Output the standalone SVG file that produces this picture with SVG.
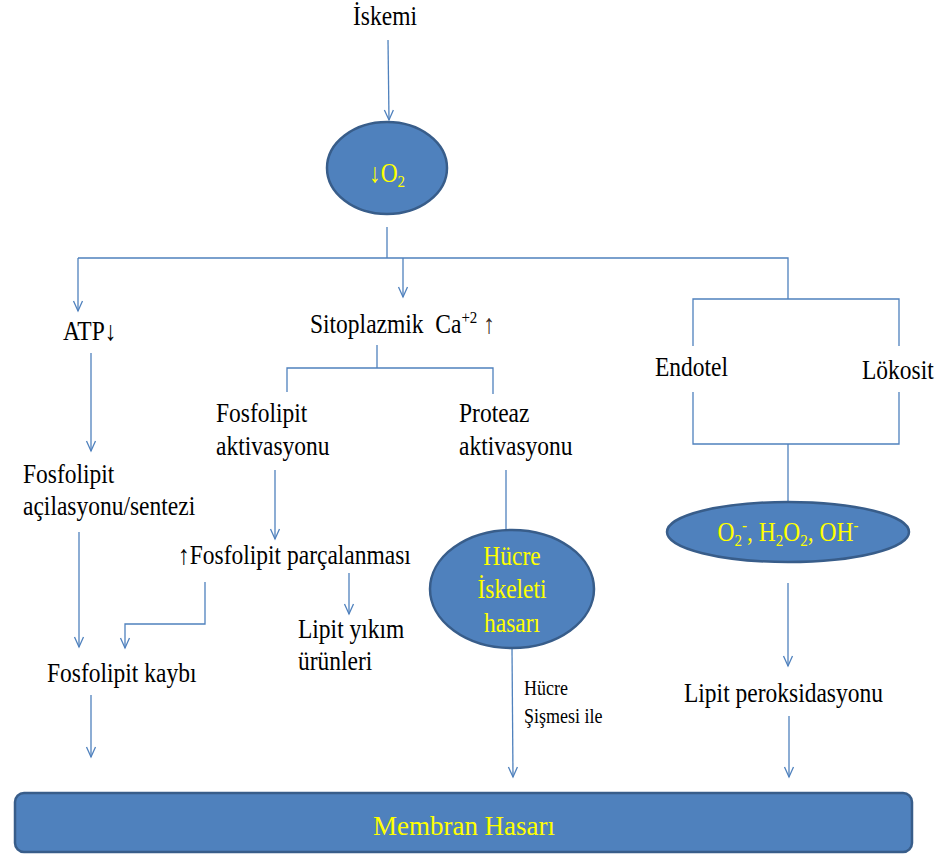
<svg xmlns="http://www.w3.org/2000/svg" width="939" height="854" viewBox="0 0 939 854">
<defs>
<marker id="ah" viewBox="-11 -6 13 12" refX="0" refY="0" markerWidth="13" markerHeight="12" markerUnits="userSpaceOnUse" orient="auto">
<path d="M-10,-4.5 L0,0 L-10,4.5" fill="none" stroke="#4f81bd" stroke-width="1.3"/>
</marker>
<style>
.c{fill:none;stroke:#4f81bd;stroke-width:1.3}
.a{marker-end:url(#ah)}
text{font-family:'Liberation Serif','DejaVu Serif',serif}
.t{font-size:23.5px;fill:#000}
.y{font-size:23.5px;fill:#ffff00}
.s{font-size:18px}
.sh{fill:#4f81bd;stroke:#385d8a;stroke-width:2.5}
</style>
</defs>
<rect width="939" height="854" fill="#fff"/>
<g id="connectors">
<line class="c a" x1="388" y1="40" x2="389" y2="120"/>
<line class="c" x1="387" y1="227" x2="387" y2="258"/>
<polyline class="c" points="78,258 788,258 788,299"/>
<line class="c a" x1="78" y1="258" x2="78" y2="311"/>
<line class="c a" x1="403" y1="258" x2="403" y2="297"/>
<polyline class="c" points="693,346 693,299 899,299 899,346"/>
<polyline class="c" points="693,392 693,444 899,444 899,392"/>
<line class="c" x1="788" y1="444" x2="788" y2="502"/>
<line class="c" x1="377" y1="345" x2="377" y2="368"/>
<polyline class="c" points="287,392 287,368 493,368 493,394"/>
<line class="c a" x1="91" y1="353" x2="91" y2="451"/>
<line class="c a" x1="79" y1="532" x2="79" y2="647"/>
<line class="c a" x1="275" y1="470" x2="275" y2="539"/>
<polyline class="c a" points="205,582 205,624 125,624 125,648"/>
<line class="c a" x1="349" y1="573" x2="349" y2="614"/>
<line class="c a" x1="91" y1="695" x2="91" y2="757"/>
<line class="c" x1="506" y1="470" x2="506" y2="531"/>
<line class="c a" x1="512" y1="648" x2="513" y2="777"/>
<line class="c a" x1="788" y1="583" x2="788" y2="666"/>
<line class="c a" x1="789" y1="716" x2="789" y2="777"/>
</g>
<g id="iskemi"><text class="t" transform="translate(385 25) scale(1 1.15)" text-anchor="middle">İskemi</text></g>
<g id="o2">
<ellipse class="sh" cx="387" cy="168" rx="60" ry="46"/>
<text class="y" transform="translate(387 182) scale(1 1.15)" text-anchor="middle">↓O<tspan font-size="15" dy="4">2</tspan></text>
</g>
<g id="atp"><text class="t" transform="translate(63 340) scale(1 1.15)">ATP↓</text></g>
<g id="sitoplazmik"><text class="t" transform="translate(310 333) scale(1 1.15)" xml:space="preserve">Sitoplazmik  Ca<tspan font-size="15" dy="-9">+2</tspan><tspan dy="9" fill="#3a2a20"> ↑</tspan></text></g>
<g id="endotel"><text class="t" transform="translate(655 376) scale(1 1.15)">Endotel</text></g>
<g id="lokosit"><text class="t" transform="translate(862 379) scale(1 1.15)">Lökosit</text></g>
<g id="fosfolipit-aktivasyonu">
<text class="t" transform="translate(216 422) scale(1 1.15)">Fosfolipit</text>
<text class="t" transform="translate(216 455) scale(1 1.15)">aktivasyonu</text>
</g>
<g id="proteaz-aktivasyonu">
<text class="t" transform="translate(459 422) scale(1 1.15)">Proteaz</text>
<text class="t" transform="translate(459 455) scale(1 1.15)">aktivasyonu</text>
</g>
<g id="fosfolipit-acilasyonu">
<text class="t" transform="translate(23 483) scale(1 1.15)">Fosfolipit</text>
<text class="t" transform="translate(23 515) scale(1 1.15)">açilasyonu/sentezi</text>
</g>
<g id="fosfolipit-parcalanmasi"><text class="t" transform="translate(178 564) scale(1 1.15)">↑Fosfolipit parçalanması</text></g>
<g id="lipit-yikim">
<text class="t" transform="translate(298 638) scale(1 1.15)">Lipit yıkım</text>
<text class="t" transform="translate(298 670) scale(1 1.15)">ürünleri</text>
</g>
<g id="fosfolipit-kaybi"><text class="t" transform="translate(47 682) scale(1 1.15)">Fosfolipit kaybı</text></g>
<g id="hucre-iskeleti">
<ellipse class="sh" cx="512" cy="589" rx="82" ry="59"/>
<text class="y" transform="translate(512 565) scale(1 1.15)" text-anchor="middle">Hücre</text>
<text class="y" transform="translate(512 598) scale(1 1.15)" text-anchor="middle">İskeleti</text>
<text class="y" transform="translate(512 632) scale(1 1.15)" text-anchor="middle">hasarı</text>
</g>
<g id="hucre-sismesi">
<text class="t s" transform="translate(524 695) scale(1 1.15)">Hücre</text>
<text class="t s" transform="translate(524 723) scale(1 1.15)">Şişmesi ile</text>
</g>
<g id="radikaller">
<ellipse class="sh" cx="788" cy="532" rx="121" ry="30"/>
<text class="y" transform="translate(788 541) scale(1 1.15)" text-anchor="middle">O<tspan font-size="15" dy="4">2</tspan><tspan font-size="15" dy="-13">-</tspan><tspan dy="9">, H</tspan><tspan font-size="15" dy="4">2</tspan><tspan dy="-4">O</tspan><tspan font-size="15" dy="4">2</tspan><tspan dy="-4">, OH</tspan><tspan font-size="15" dy="-9">-</tspan></text>
</g>
<g id="lipit-peroksidasyonu"><text class="t" transform="translate(684 702) scale(1 1.15)">Lipit peroksidasyonu</text></g>
<g id="membran-hasari">
<rect class="sh" x="15" y="793" width="897" height="59" rx="9"/>
<text class="y" transform="translate(464 835) scale(1 1.2)" text-anchor="middle" font-size="26" textLength="182" lengthAdjust="spacingAndGlyphs">Membran Hasarı</text>
</g>
</svg>
